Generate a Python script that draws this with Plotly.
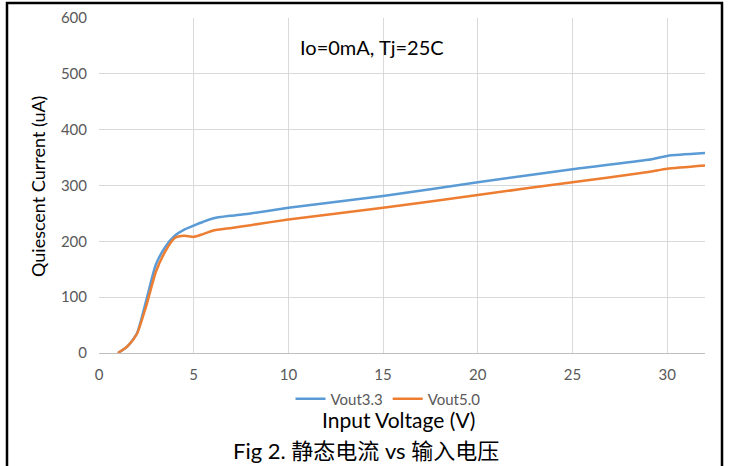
import plotly.graph_objects as go

vin = [1.0, 1.5, 2.0, 2.5, 3.0, 3.5, 4.0, 4.5, 5.0, 5.5, 6.0, 7, 8, 10, 15, 20, 25, 29, 30, 32]
vout33 = [0, 12, 35, 95, 158, 190, 210, 221, 228, 235, 241, 246, 250, 260, 281, 306, 329, 346, 353, 358]
vout50 = [0, 12, 34, 85, 145, 182, 206, 210, 208, 213, 219, 224, 229, 239, 260, 283, 306, 324, 330, 336]

FONT = "Lato"
fig = go.Figure()
fig.add_trace(go.Scatter(x=vin, y=vout33, mode="lines", name="Vout3.3",
                         line=dict(color="#5b9bd5", width=2.5, shape="spline", smoothing=0.6)))
fig.add_trace(go.Scatter(x=vin, y=vout50, mode="lines", name="Vout5.0",
                         line=dict(color="#ed7d31", width=2.5, shape="spline", smoothing=0.6)))

W, H = 732, 466
L, R, T, B = 99, 732 - 705, 18, 466 - 353
pw, ph = W - L - R, H - T - B

def px(x):
    return (x - L) / pw

def py(y):
    return (H - B - y) / ph

def note(text, x, y, size, angle=0, family=FONT):
    return dict(text=text, x=px(x), y=py(y), xref="paper", yref="paper",
                xanchor="center", yanchor="middle", showarrow=False, textangle=angle,
                font=dict(size=size, color="black", family=family))

fig.update_layout(
    width=W, height=H,
    margin=dict(l=L, r=R, t=T, b=B, autoexpand=False),
    paper_bgcolor="white", plot_bgcolor="white",
    font=dict(family=FONT, color="#595959", size=15),
    showlegend=True,
    legend=dict(orientation="h", x=px(388), y=py(399), xanchor="center", yanchor="middle",
                font=dict(size=15, color="#595959"), bgcolor="rgba(0,0,0,0)",
                itemwidth=30, tracegroupgap=0),
    xaxis=dict(range=[0, 32], tickvals=[0, 5, 10, 15, 20, 25, 30], showgrid=True,
               gridcolor="#d9d9d9", gridwidth=1, zeroline=False, showline=True,
               linecolor="#bfbfbf", linewidth=1, ticks="outside", ticklen=8, tickcolor="rgba(0,0,0,0)",
               tickfont=dict(size=15, color="#595959")),
    yaxis=dict(range=[0, 600], tickvals=[0, 100, 200, 300, 400, 500, 600], showgrid=True,
               gridcolor="#d9d9d9", gridwidth=1, zeroline=False, showline=False,
               ticks="outside", ticklen=8, tickcolor="rgba(0,0,0,0)",
               tickfont=dict(size=15, color="#595959")),
    annotations=[
        note("Io=0mA, Tj=25C", 372, 47, 20),
        note("Quiescent Current (uA)", 38, 187, 18, angle=-90),
        note("Input Voltage (V)", 398, 419, 21),
        note("Fig 2. 静态电流 vs 输入电压", 366, 450, 22, family=FONT + ", Noto Sans CJK SC"),
    ],
    shapes=[
        dict(type="rect", xref="paper", yref="paper", x0=px(7), x1=px(722), y0=py(490), y1=py(3),
             line=dict(color="black", width=2.5), fillcolor="rgba(0,0,0,0)", layer="above"),
    ],
)

fig.write_html("out.html", config={"displayModeBar": False},
               post_script="document.body.style.margin='0';document.body.style.padding='0';")
